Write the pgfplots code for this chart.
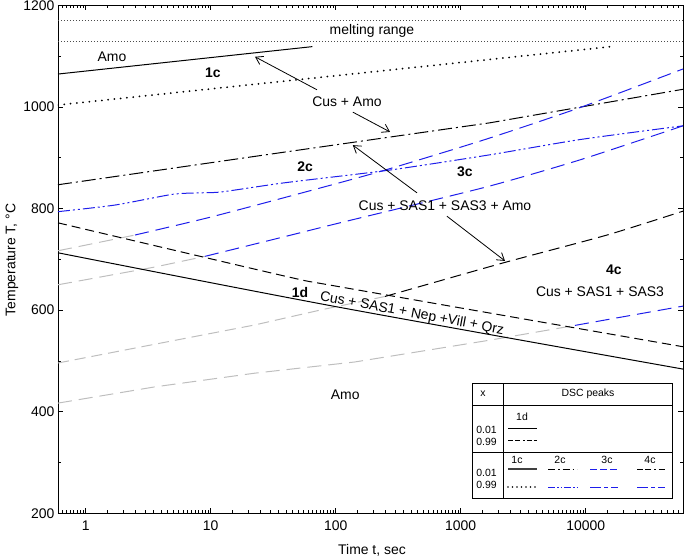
\documentclass[border=0pt]{standalone}
\usepackage{pgfplots}
\pgfplotsset{compat=1.18}
\usepackage{fontspec}
\setmainfont{Liberation Sans}
\usetikzlibrary{arrows.meta,calc}
\definecolor{lblue}{RGB}{30,30,235}
\definecolor{lgray}{RGB}{190,190,190}
\tikzset{
  txt/.style={font=\fontsize{14}{16}\selectfont, inner sep=0pt},
  btxt/.style={font=\fontsize{14}{16}\selectfont\bfseries, inner sep=0pt},
  ltxt/.style={font=\fontsize{10.5}{12}\selectfont, inner sep=0pt},
  arr/.style={line width=0.8bp, -{Straight Barb[length=7bp,width=9bp,line width=0.8bp]}},
  dashA/.style={dash pattern=on 14bp off 7bp},
  dashB/.style={dash pattern=on 11bp off 6bp},
  dashC/.style={dash pattern=on 9bp off 5bp},
  dashdot/.style={dash pattern=on 14bp off 4bp on 2bp off 4bp},
  dashdotdot/.style={dash pattern=on 12bp off 3bp on 2bp off 3bp on 2bp off 3bp},
}
\begin{document}
\begin{tikzpicture}
\begin{axis}[
  name=ax,
  scale only axis, width=625bp, height=507.8bp,
  xmode=log, xmin=0.6, xmax=60000, ymin=200, ymax=1200,
  xtick={1,10,100,1000,10000}, xticklabels={1,10,100,1000,10000},
  minor xtick={0.65,0.7,0.75,0.8,0.85,0.9,0.95,1.5,2,2.5,3,3.5,4,4.5,5,5.5,6,6.5,7,7.5,8,8.5,9,9.5,15,20,25,30,35,40,45,50,55,60,65,70,75,80,85,90,95,150,200,250,300,350,400,450,500,550,600,650,700,750,800,850,900,950,1500,2000,2500,3000,3500,4000,4500,5000,5500,6000,6500,7000,7500,8000,8500,9000,9500,15000,20000,25000,30000,35000,40000,45000,50000,55000},
  ytick={200,400,600,800,1000,1200}, minor ytick={300,500,700,900,1100},
  tick align=inside, major tick length=5bp, minor tick length=3bp,
  every tick/.style={black, line width=0.7bp},
  axis line style={line width=0.9bp},
  /pgf/number format/assume math mode=true,
  /pgf/number format/1000 sep={},
  ticklabel style={font=\fontsize{14}{16}\selectfont},
  xticklabel style={yshift=-4bp},
  label style={font=\fontsize{14}{16}\selectfont},
  xlabel={Time t, sec}, ylabel={Temperature T, °C},
  x label style={at={(axis description cs:0.5024,-0.0723)},anchor=center},
  y label style={at={(axis description cs:-0.0736,0.499)},anchor=center},
]
% melting range
\addplot[black!70, line width=0.6bp, dash pattern=on 0.7bp off 2.3bp] coordinates {(0.6,1170)(60000,1170)};
\addplot[black!70, line width=0.6bp, dash pattern=on 0.7bp off 2.3bp] coordinates {(0.6,1130)(60000,1130)};
% 1c
\addplot[black, line width=1bp] coordinates {(0.6,1065)(65,1119)};
\addplot[black, line width=2bp, line cap=round, dash pattern=on 0bp off 6.3bp] coordinates {(0.6,1004)(16000,1119)};
% 2c
\addplot[black, line width=1bp, dashdot] coordinates {(0.6,847)(35.8,910)(1714,969)(60000,1035)};
\addplot[lblue, line width=1bp, dashdotdot, smooth, tension=0.4] coordinates {(0.6,794)(1.71,807)(4.9,828)(7.9,831)(12.3,833)(39.3,851)(272,876)(1714,906)(9000,936)(60000,963)};
% 3c
\addplot[lgray, line width=1bp, dashA] coordinates {(0.6,717)(2.48,748)};
\addplot[lblue, line width=1bp, dashA, smooth, tension=0.4] coordinates {(2.48,748)(9.5,782)(39.3,822)(226,873)(1563,936)(9000,999)(60000,1075)};
\addplot[lgray, line width=1bp, dashA] coordinates {(0.6,650)(3.58,685)(9.0,706)};
\addplot[lblue, line width=1bp, dashA, smooth, tension=0.4] coordinates {(9.0,706)(39.3,745)(108,772)(1563,842)(9000,896)(60000,963)};
% 4c
\addplot[lgray, line width=1bp, dashB] coordinates {(0.6,496)(3.58,533)(22.6,571)(77.6,601)(248,627)};
\addplot[black, line width=1bp, dashB, smooth, tension=0.4] coordinates {(248,627)(2178,693)(14800,748)(60000,795)};
\addplot[lgray, line width=1bp, dashA] coordinates {(0.6,417)(3.58,449)(22.6,476)(142,498)(1714,541)(8200,570)};
\addplot[lblue, line width=1bp, dashA] coordinates {(8200,570)(19900,587)(60000,608)};
% 1d
\addplot[black, line width=1bp, smooth, tension=0.5] coordinates {(0.6,713)(100,607)(60000,484)};
\addplot[black, line width=1bp, dashC, smooth, tension=0.4] coordinates {(0.6,772)(39.3,667)(108,646)(60000,528)};

% labels
\node[txt] at (axis cs:195,1150) {melting range};
\node[txt] at (axis cs:1.62,1100) {Amo};
\node[btxt] at (axis cs:10.4,1067) {1c};
\node[txt] at (axis cs:123,1010) {Cus + Amo};
\draw[arr] (axis cs:70.8,1034) -- (axis cs:22.6,1099);
\draw[arr] (axis cs:137,990) -- (axis cs:272,951);
\node[btxt] at (axis cs:56.8,882) {2c};
\node[btxt] at (axis cs:1081,872) {3c};
\node[txt] at (axis cs:748,805) {Cus + SAS1 + SAS3 + Amo};
\draw[arr] (axis cs:447,831) -- (axis cs:137,925);
\draw[arr] (axis cs:776,785) -- (axis cs:2260,697);
\node[btxt] at (axis cs:16800,679) {4c};
\node[txt] at (axis cs:13000,636) {Cus + SAS1 + SAS3};
\node[btxt] at (axis cs:51.8,634) {1d};
\node[txt, rotate=-10.5] at (axis cs:407,593) {Cus + SAS1 + Nep +Vill + Qrz};
\node[txt] at (axis cs:119,433) {Amo};

% legend table
\draw[line width=0.8bp, fill=white] (rel axis cs:0.6624,0.0301) rectangle (rel axis cs:0.9824,0.2567);
\draw[line width=0.8bp] (rel axis cs:0.712,0.0301) -- (rel axis cs:0.712,0.2567);
\draw[line width=0.8bp] (rel axis cs:0.6624,0.2133) -- (rel axis cs:0.9824,0.2133);
\draw[line width=0.8bp] (rel axis cs:0.6624,0.1207) -- (rel axis cs:0.9824,0.1207);
\node[ltxt] at (rel axis cs:0.68,0.235) {x};
\node[ltxt] at (rel axis cs:0.848,0.235) {DSC peaks};
\node[ltxt] at (rel axis cs:0.7424,0.1896) {1d};
\node[ltxt] at (rel axis cs:0.6856,0.164) {0.01};
\node[ltxt] at (rel axis cs:0.6856,0.1404) {0.99};
\draw[black, line width=0.8bp] (rel axis cs:0.72,0.1663) -- (rel axis cs:0.7664,0.1663);
\draw[black, line width=0.8bp, dash pattern=on 5bp off 2bp on 5bp off 3bp on 1.5bp off 2bp] (rel axis cs:0.72,0.1427) -- (rel axis cs:0.7664,0.1427);
\node[ltxt] at (rel axis cs:0.7344,0.105) {1c};
\node[ltxt] at (rel axis cs:0.8032,0.105) {2c};
\node[ltxt] at (rel axis cs:0.8784,0.105) {3c};
\node[ltxt] at (rel axis cs:0.9472,0.105) {4c};
\node[ltxt] at (rel axis cs:0.6856,0.0794) {0.01};
\node[ltxt] at (rel axis cs:0.6856,0.0557) {0.99};
\draw[black!75, line width=1.1bp] (rel axis cs:0.72,0.0873) -- (rel axis cs:0.7664,0.0873);
\draw[black, line width=1.9bp, line cap=round, dash pattern=on 0bp off 4.5bp] (rel axis cs:0.72,0.0518) -- (rel axis cs:0.7664,0.0518);
\draw[black, line width=0.8bp, dash pattern=on 7bp off 3bp on 1.5bp off 3bp] (rel axis cs:0.784,0.0873) -- (rel axis cs:0.8304,0.0873);
\draw[lblue, line width=0.8bp, dash pattern=on 7bp off 2bp on 1.5bp off 2bp on 1.5bp off 2bp] (rel axis cs:0.784,0.0518) -- (rel axis cs:0.8304,0.0518);
\draw[lblue, line width=0.8bp, dash pattern=on 7bp off 3bp] (rel axis cs:0.8512,0.0873) -- (rel axis cs:0.896,0.0873);
\draw[lblue, line width=0.8bp, dash pattern=on 11bp off 3bp on 4bp off 3bp] (rel axis cs:0.8512,0.0518) -- (rel axis cs:0.896,0.0518);
\draw[black, line width=0.8bp, dash pattern=on 6bp off 2bp on 6bp off 3bp on 1.5bp off 3bp] (rel axis cs:0.9264,0.0873) -- (rel axis cs:0.9712,0.0873);
\draw[lblue, line width=0.8bp, dash pattern=on 11bp off 3bp on 4bp off 3bp] (rel axis cs:0.9264,0.0518) -- (rel axis cs:0.9712,0.0518);
\end{axis}
\pgfresetboundingbox
\path ($(ax.south west)+(-58bp,-45.7bp)$) rectangle ($(ax.north east)+(2bp,5.5bp)$);
\end{tikzpicture}
\end{document}
